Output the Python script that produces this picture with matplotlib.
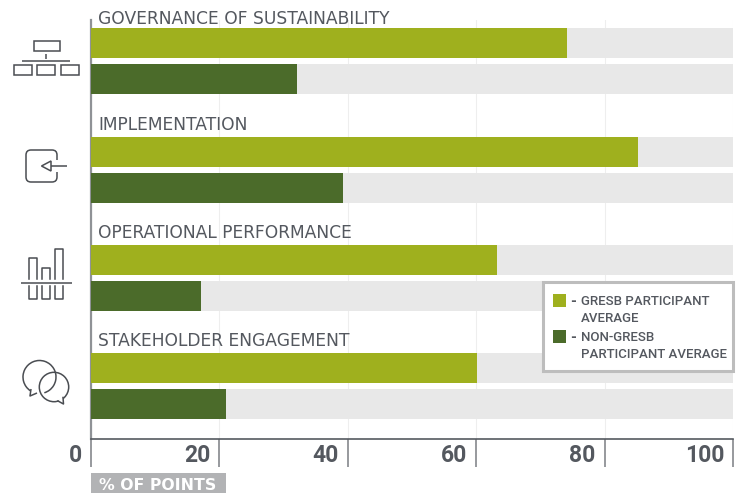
import matplotlib
matplotlib.use('Agg')
from matplotlib import pyplot as plt
from matplotlib.patches import Rectangle, FancyBboxPatch, Arc, Circle, Polygon

categories = ['GOVERNANCE OF SUSTAINABILITY', 'IMPLEMENTATION',
              'OPERATIONAL PERFORMANCE', 'STAKEHOLDER ENGAGEMENT']
gresb = [74.1, 85.2, 63.2, 60.1]
non_gresb = [32.1, 39.3, 17.1, 21.0]
ticks = [0, 20, 40, 60, 80, 100]
tick_labels = ['0', '20', '40', '60', '80', '100']
legend_labels = ['GRESB PARTICIPANT\nAVERAGE', 'NON-GRESB\nPARTICIPANT AVERAGE']

LIME = '#9fb01e'
DARK = '#4b6b2a'
TRACK = '#e8e8e8'
TEXT = '#54585f'
W, H = 742, 493

plt.rcParams['font.family'] = ['Roboto', 'DejaVu Sans']
fig = plt.figure(figsize=(W / 100, H / 100), dpi=100)

# main axes, y runs in pixels from the top so the rows are easy to place
top, bottom, left, right = 20, 439, 91, 733
ax = fig.add_axes([left / W, 1 - bottom / H, (right - left) / W, (bottom - top) / H])
ax.set_xlim(0, 100)
ax.set_ylim(bottom, top)
ax.set_axisbelow(True)
ax.grid(axis='x', color='#eeeeee', lw=0.8)
ax.grid(axis='y', visible=False)

row_tops = [28, 137, 245, 353]
title_base = [24, 130, 238, 346]
bar_h = 30
gap = 36
for i, name in enumerate(categories):
    y1 = row_tops[i] + bar_h / 2
    y2 = y1 + gap
    ax.barh([y1, y2], [100, 100], height=bar_h, color=TRACK, alpha=0.97, zorder=2)
    ax.barh(y1, gresb[i], height=bar_h, color=LIME, zorder=3)
    ax.barh(y2, non_gresb[i], height=bar_h, color=DARK, zorder=3)
    ax.text(1.1, title_base[i], name, color=TEXT, fontsize=12.3, family='DejaVu Sans',
            va='baseline', ha='left', zorder=4)

for s in ['top', 'right']:
    ax.spines[s].set_visible(False)
ax.spines['bottom'].set_color('#555a60')
ax.spines['bottom'].set_linewidth(1.2)
ax.spines['left'].set_color('#8f9296')
ax.spines['left'].set_linewidth(1.6)
ax.set_yticks([])
ax.set_xticks(ticks)
ax.set_xticklabels([])
ax.tick_params(axis='x', direction='out', length=20, width=1.2, color='#85888c')

# overlay in pixel coordinates for labels, legend and icons
ov = fig.add_axes([0, 0, 1, 1], facecolor='none')
ov.set_xlim(0, W)
ov.set_ylim(H, 0)
ov.axis('off')

for t, lab in zip(ticks, tick_labels):
    x = left + (right - left) * t / 100
    ov.text(x - 9, 455, lab, color=TEXT, fontsize=16.5, weight='bold', ha='right', va='center')

ov.add_patch(Rectangle((91, 473), 135, 20, color='#b2b3b5', lw=0))
ov.text(99, 486, '% OF POINTS', color='white', fontsize=11.3, family='DejaVu Sans', weight='bold',
        va='center', ha='left')

# legend
ov.add_patch(Rectangle((542.5, 281.5), 190.5, 89, fc='white', ec='#bdbdbd', lw=2.2, zorder=5))
legend_y = [294, 330]
for y0, col, lab in zip(legend_y, [LIME, DARK], legend_labels):
    ov.add_patch(Rectangle((553, y0), 13, 13, color=col, lw=0, zorder=6))
    ov.text(570, y0 + 8, '-', color=TEXT, fontsize=11, weight='bold', va='center', zorder=6)
    ov.text(581, y0 + 1, lab, color=TEXT, fontsize=9.5, weight='medium', va='top', ha='left',
            linespacing=1.38, zorder=6)

ic = '#4a4d52'
lw = 1.1

def box(x, y, w, h):
    ov.add_patch(Rectangle((x, y), w, h, fc='none', ec=ic, lw=lw))

def line(xs, ys):
    ov.plot(xs, ys, color=ic, lw=lw, solid_capstyle='butt', zorder=5)

# governance icon
box(33.5, 41, 26, 10)
line([46, 46], [54, 59])
line([22, 70], [61, 61])
box(13.5, 65, 18, 10)
box(37, 65, 18, 10)
box(60.5, 65, 18, 10)

# implementation icon
ov.add_patch(FancyBboxPatch((27, 151), 29, 30, boxstyle='round,pad=1,rounding_size=5',
                            fc='none', ec=ic, lw=lw))
ov.add_patch(Rectangle((54, 160), 5, 12, fc='white', ec='none', zorder=3))
ov.add_patch(Polygon([[41.5, 166], [51, 161], [51, 171]], closed=True, fc='white', ec=ic, lw=lw, zorder=4))
line([51, 67], [166, 166])

# operational performance icon
def open_bar(x, y_tip, y_base, w=8):
    ov.plot([x, x, x + w, x + w], [y_base, y_tip, y_tip, y_base], color=ic, lw=lw)

open_bar(29, 258, 279)
open_bar(42, 268, 279)
open_bar(55, 249, 279)
line([21, 72], [283, 283])
for x in [29, 42, 55]:
    open_bar(x, 299, 286)

# stakeholder engagement icon
ov.add_patch(Arc((39.5, 377), 33, 33, theta1=103, theta2=433, ec=ic, lw=lw))
ov.add_patch(Polygon([[31, 388], [30, 396], [37, 393]], closed=True, fc='white', ec='none', zorder=3))
line([31, 30, 37], [389, 396, 393])
ov.add_patch(Circle((54, 387), 14.7, fc='none', ec=ic, lw=lw, zorder=4))
ov.add_patch(Polygon([[58, 400], [63.5, 404], [63, 397]], closed=True, fc='white', ec='none', zorder=5))
ov.plot([58, 63.5, 63], [401, 404, 397.5], color=ic, lw=lw, zorder=6)

fig.savefig('out.png', dpi=100)
